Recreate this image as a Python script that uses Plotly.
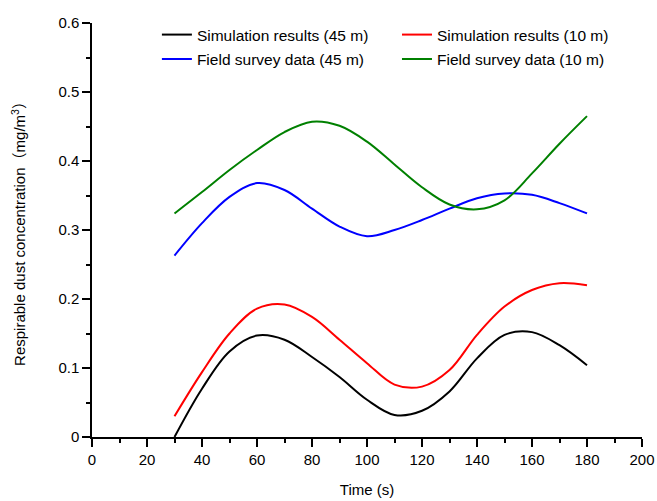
import plotly.graph_objects as go

time_s = [30, 40, 50, 60, 70, 80, 90, 100, 110, 120, 130, 140, 150, 160, 170, 180]
sim_45 = [0.000, 0.070, 0.124, 0.147, 0.141, 0.116, 0.087, 0.054, 0.032, 0.038, 0.066, 0.114, 0.148, 0.152, 0.133, 0.104]
sim_10 = [0.030, 0.094, 0.150, 0.186, 0.192, 0.174, 0.141, 0.107, 0.076, 0.073, 0.097, 0.148, 0.189, 0.213, 0.223, 0.220]
field_45 = [0.263, 0.310, 0.348, 0.368, 0.358, 0.331, 0.305, 0.291, 0.300, 0.3145, 0.331, 0.346, 0.353, 0.351, 0.339, 0.324]
field_10 = [0.324, 0.355, 0.387, 0.416, 0.442, 0.457, 0.451, 0.428, 0.395, 0.362, 0.337, 0.330, 0.343, 0.382, 0.425, 0.465]

series = [
    ("Simulation results (45 m)", sim_45, "#000000", "legend"),
    ("Simulation results (10 m)", sim_10, "#FF0000", "legend2"),
    ("Field survey data (45 m)", field_45, "#0000FF", "legend3"),
    ("Field survey data (10 m)", field_10, "#008000", "legend4"),
]

x_ticks = list(range(0, 201, 20))
y_ticks = [0, 0.1, 0.2, 0.3, 0.4, 0.5, 0.6]
y_labels = ["0", "0.1", "0.2", "0.3", "0.4", "0.5", "0.6"]

FONT = "Liberation Sans, Arial, Noto Sans CJK SC, sans-serif"

fig = go.Figure()
for name, vals, color, lg in series:
    fig.add_trace(go.Scatter(
        x=time_s, y=vals, name=name, mode="lines",
        line=dict(color=color, width=2, shape="spline", smoothing=1.0),
        legend=lg, showlegend=True,
    ))

def leg(x, y):
    return dict(x=x, y=y, xanchor="left", yanchor="middle", xref="paper", yref="paper",
                bgcolor="rgba(0,0,0,0)", borderwidth=0,
                font=dict(family=FONT, size=15.5, color="#000000"))

fig.update_layout(
    width=657, height=501,
    margin=dict(l=92, r=15, t=23, b=64),
    paper_bgcolor="white", plot_bgcolor="white",
    font=dict(family=FONT, size=15, color="#000000"),
    legend=leg(0.118, 0.971),
    legend2=leg(0.5545, 0.971),
    legend3=leg(0.118, 0.912),
    legend4=leg(0.5545, 0.912),
    xaxis=dict(
        range=[0, 200], tickvals=x_ticks, ticks="outside", ticklen=8, tickwidth=1.5,
        tickcolor="#000000", showline=True, linecolor="#000000", linewidth=1.5,
        showgrid=False, zeroline=False, automargin=False,
        minor=dict(dtick=10, ticks="outside", ticklen=4, tickwidth=1.5, tickcolor="#000000", showgrid=False),
        title=dict(text="Time (s)", standoff=18, font=dict(size=15)),
        tickfont=dict(size=15),
    ),
    yaxis=dict(
        range=[0, 0.6], tickvals=y_ticks, ticktext=y_labels, ticks="outside", ticklen=8, tickwidth=1.5,
        tickcolor="#000000", showline=True, linecolor="#000000", linewidth=1.5,
        showgrid=False, zeroline=False, automargin=False,
        minor=dict(dtick=0.05, ticks="outside", ticklen=4, tickwidth=1.5, tickcolor="#000000", showgrid=False),
        title=dict(text="Respirable dust concentration（mg/m<sup>3</sup>）", standoff=29, font=dict(size=15)),
        tickfont=dict(size=15),
    ),
)

fig.write_html("out.html", config={"displayModeBar": False},
               post_script="document.body.style.margin='0';document.body.style.overflow='hidden';")
